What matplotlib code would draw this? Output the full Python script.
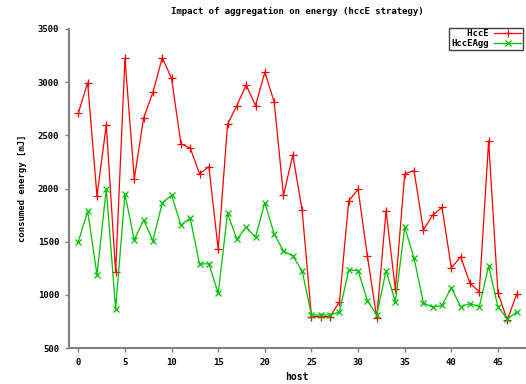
import matplotlib
matplotlib.use("Agg")
import matplotlib.pyplot as plt

hosts = list(range(48))

hcce = [2710, 2995, 1930, 2600, 1215, 3225, 2090, 2663, 2905, 3230,
        3035, 2420, 2380, 2138, 2205, 1428, 2603, 2780, 2973, 2780,
        3095, 2815, 1935, 2315, 1797, 795, 795, 795, 933, 1885,
        1992, 1362, 782, 1791, 1052, 2139, 2168, 1610, 1750, 1822,
        1252, 1359, 1108, 1030, 2448, 1017, 763, 1005]

hcce_agg = [1500, 1786, 1190, 1998, 867, 1948, 1516, 1704, 1509, 1864,
            1936, 1657, 1720, 1290, 1292, 1014, 1767, 1522, 1635, 1541,
            1867, 1572, 1412, 1365, 1227, 810, 810, 810, 839, 1234,
            1227, 945, 810, 1227, 933, 1635, 1346, 926, 883, 902,
            1067, 889, 917, 889, 1271, 886, 776, 836]

x_ticks = [0, 5, 10, 15, 20, 25, 30, 35, 40, 45]
y_ticks = [500, 1000, 1500, 2000, 2500, 3000, 3500]

font = {"family": "DejaVu Sans Mono", "weight": "bold", "size": 6.5}

fig = plt.figure(figsize=(5.26, 3.84), dpi=100)
ax = fig.add_axes([69 / 526, 1 - 348 / 384, 456 / 526, 319 / 384])

# labels padded so the monospace legend text lines up on the right, gnuplot style
ax.plot(hosts, hcce, color="#ff0000", marker="+", markersize=5.5,
        markeredgewidth=0.9, linewidth=0.9, label="   HccE")
ax.plot(hosts, hcce_agg, color="#00c000", marker="x", markersize=4,
        markeredgewidth=0.9, linewidth=0.9, label="HccEAgg")

ax.set_xlim(-1, 47.9)
ax.set_ylim(500, 3500)
ax.set_xticks(x_ticks)
ax.set_yticks(y_ticks)
ax.set_xticklabels([str(t) for t in x_ticks], fontdict=font)
ax.set_yticklabels([str(t) for t in y_ticks], fontdict=font)
ax.tick_params(direction="out", length=3, width=1, color="#808080", pad=4)

for side in ["top", "right"]:
    ax.spines[side].set_visible(False)
for side in ["left", "bottom"]:
    ax.spines[side].set_color("#808080")
    ax.spines[side].set_linewidth(1.5)

ax.set_title("Impact of aggregation on energy (hccE strategy)",
             fontdict=font, pad=11)
ax.set_xlabel("host", fontdict={**font, "size": 7}, labelpad=4)
ax.set_ylabel("consumed energy [mJ]", fontdict=font, labelpad=8)

leg = ax.legend(loc="upper right", bbox_to_anchor=(1.0, 1.01),
                markerfirst=False, prop=font, fancybox=False,
                framealpha=1, edgecolor="#404040", borderpad=0.2,
                labelspacing=0.1, handlelength=3, borderaxespad=0.2,
                handletextpad=0.6)
leg.get_frame().set_linewidth(1)

fig.savefig("out.png", dpi=100)
